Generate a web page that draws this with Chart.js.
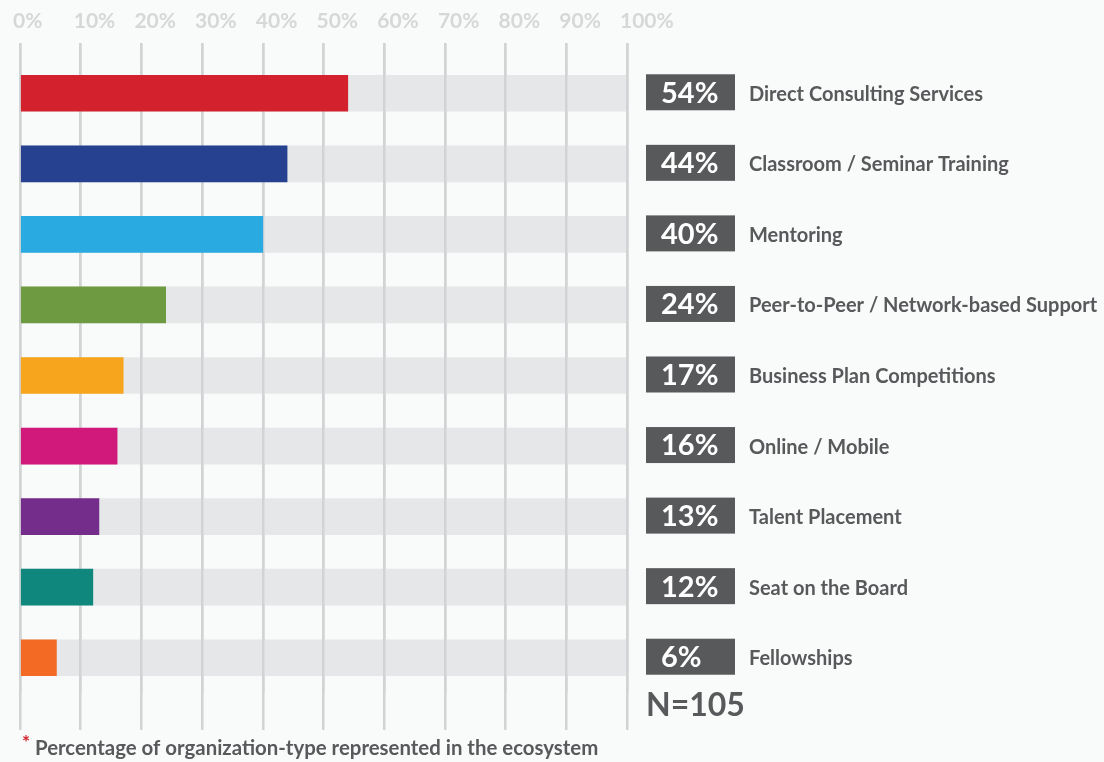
<!DOCTYPE html>
<html>
<head>
<meta charset="utf-8">
<script src="https://cdn.jsdelivr.net/npm/chart.js@4/dist/chart.umd.min.js"></script>
<style>
  html, body { margin: 0; padding: 0; background: #f9fafa; }
  #wrap { width: 1104px; height: 762px; }
</style>
</head>
<body>
<div id="wrap"><canvas id="chart" width="1104" height="762"></canvas></div>
<script>
// chart data
const categories = [
    'Direct Consulting Services',
    'Classroom / Seminar Training',
    'Mentoring',
    'Peer-to-Peer / Network-based Support',
    'Business Plan Competitions',
    'Online / Mobile',
    'Talent Placement',
    'Seat on the Board',
    'Fellowships'
];
const values = [54, 44, 40, 24, 17, 16, 13, 12, 6];
const trackValues = [100, 100, 100, 100, 100, 100, 100, 100, 100];
const barColors = ['#d3222d', '#25418f', '#29abe2', '#6e9a41', '#f8a51e', '#d0197a', '#752d8c', '#0f877c', '#f26a24'];
const sampleSize = 'N=105';
const footnote = 'Percentage of organization-type represented in the ecosystem';

const DARK = '#58595b';
const GRID = '#d2d3d4';

// redraw the x grid on top of the grey tracks, under the coloured bars
const gridOverTracks = {
    id: 'gridOverTracks',
    beforeDatasetDraw(chart, args) {
        if (args.index === 1) {
            chart.scales.x.drawGrid(chart.chartArea);
        }
    }
};

const sideLabels = {
    id: 'sideLabels',
    afterDatasetsDraw(chart) {
        const ctx = chart.ctx;
        const meta = chart.getDatasetMeta(1);
        const boxLeft = chart.chartArea.right + 19;
        ctx.save();
        meta.data.forEach((bar, i) => {
            const h = bar.height;
            ctx.fillStyle = DARK;
            ctx.fillRect(boxLeft, bar.y - h / 2 - 1, 89, h);

            ctx.fillStyle = '#ffffff';
            ctx.font = 'bold 29px Lato';
            ctx.textAlign = 'left';
            ctx.textBaseline = 'middle';
            ctx.fillText(values[i] + '%', boxLeft + 15, bar.y);

            ctx.fillStyle = DARK;
            ctx.font = 'bold 20px Lato';
            ctx.fillText(categories[i], boxLeft + 103, bar.y + 1);
        });

        const last = meta.data[meta.data.length - 1];
        ctx.fillStyle = DARK;
        ctx.font = 'bold 32px Lato';
        ctx.textBaseline = 'middle';
        ctx.fillText(sampleSize, boxLeft, last.y + 48);

        ctx.fillStyle = '#d3222d';
        ctx.font = 'bold 19px Lato';
        ctx.textBaseline = 'alphabetic';
        ctx.fillText('*', 22, 749);
        ctx.fillStyle = DARK;
        ctx.font = 'bold 20.4px Lato';
        ctx.fillText(footnote, 35, 755);
        ctx.restore();
    }
};

new Chart(document.getElementById('chart'), {
    type: 'bar',
    data: {
        labels: categories,
        datasets: [
            {
                label: 'track',
                data: trackValues,
                backgroundColor: '#e6e7e8',
                barThickness: 36,
                grouped: false,
                order: 2
            },
            {
                label: 'share',
                data: values,
                backgroundColor: barColors,
                barThickness: 36,
                grouped: false,
                order: 1
            }
        ]
    },
    options: {
        indexAxis: 'y',
        responsive: false,
        animation: false,
        events: [],
        layout: {
            padding: { left: 20, right: 477, top: 0, bottom: 32 }
        },
        plugins: {
            legend: { display: false },
            tooltip: { enabled: false }
        },
        scales: {
            x: {
                type: 'linear',
                position: 'top',
                min: 0,
                max: 100,
                grid: {
                    color: GRID,
                    lineWidth: 2.5,
                    drawTicks: true,
                    tickLength: 15
                },
                border: { display: false },
                ticks: {
                    stepSize: 10,
                    align: 'start',
                    labelOffset: -7,
                    padding: 11,
                    color: '#d6d7d7',
                    font: { family: 'Lato', size: 21, weight: 'bold', lineHeight: 1.0 },
                    callback: v => v + '%'
                }
            },
            x2: {
                type: 'linear',
                position: 'bottom',
                min: 0,
                max: 100,
                grid: {
                    color: GRID,
                    lineWidth: 2.5,
                    drawOnChartArea: false,
                    drawTicks: true,
                    tickLength: 37
                },
                border: { display: false },
                ticks: { stepSize: 10, display: false }
            },
            y: {
                display: false,
                grid: { display: false }
            }
        }
    },
    plugins: [gridOverTracks, sideLabels]
});
</script>
</body>
</html>
